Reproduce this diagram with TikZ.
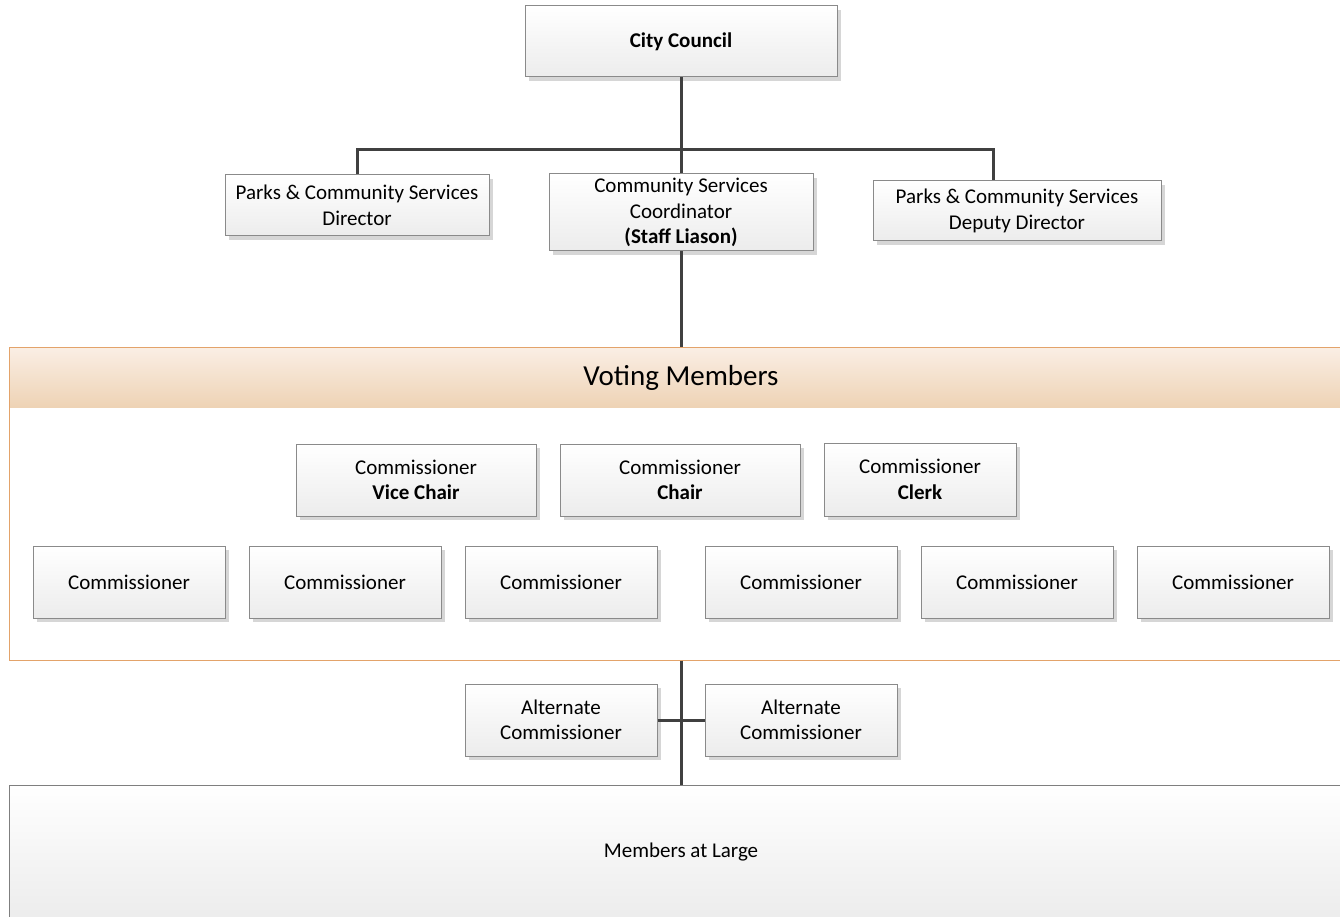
\documentclass[tikz,border=0pt]{standalone}
\usepackage{fontspec}
\setmainfont{Carlito}
\usetikzlibrary{shadows}
\definecolor{boxborder}{HTML}{8A8A8A}
\definecolor{boxbottom}{HTML}{ECECEC}
\definecolor{linecol}{HTML}{404040}
\definecolor{orangeborder}{HTML}{E3A36A}
\definecolor{headtop}{HTML}{FAEEE4}
\definecolor{headbottom}{HTML}{EED3B5}
\definecolor{malborder}{HTML}{7F7F7F}
\tikzset{
  orgbox/.style={draw=boxborder, line width=1pt, top color=white, bottom color=boxbottom,
    drop shadow={shadow xshift=4pt, shadow yshift=-4pt, fill=black!16, opacity=1},
    align=center, inner sep=0pt, font=\fontsize{21}{25.5}\selectfont},
  conn/.style={draw=linecol, line width=3pt},
}
\begin{document}
\begin{tikzpicture}[x=1pt,y=-1pt]
\useasboundingbox (0,0) rectangle (1340,917);
\clip (0,0) rectangle (1340,917);
% top
\node[orgbox, minimum width=312pt, minimum height=71pt, font=\fontsize{21}{25.5}\selectfont\bfseries] (cc) at (681,41.5) {City Council};
\node[orgbox, minimum width=264pt, minimum height=61pt] (dir) at (357,205.5) {Parks \& Community Services\\Director};
\node[orgbox, minimum width=264pt, minimum height=77pt] (coord) at (681,212.5) {Community Services\\Coordinator\\\textbf{(Staff Liason)}};
\node[orgbox, minimum width=288pt, minimum height=60pt] (dep) at (1017,211) {Parks \& Community Services\\Deputy Director};
\coordinate (bus) at (681,150);
% voting members container
\node[top color=headtop, bottom color=headbottom, minimum width=1344pt, minimum height=59pt, inner sep=0pt,
  font=\fontsize{29}{34}\selectfont] (vhead) at (681,377.5) {Voting Members};
\node[draw=orangeborder, line width=1pt, minimum width=1344pt, minimum height=313pt, inner sep=0pt] (voting) at (681,503.5) {};
% row 1
\node[orgbox, minimum width=240pt, minimum height=72pt] (vice) at (416,480) {Commissioner\\\textbf{Vice Chair}};
\node[orgbox, minimum width=240pt, minimum height=72pt] (chair) at (680,480) {Commissioner\\\textbf{Chair}};
\node[orgbox, minimum width=192pt, minimum height=73pt] (clerk) at (920,479.5) {Commissioner\\\textbf{Clerk}};
% row 2
\node[orgbox, minimum width=192pt, minimum height=72pt] (c1) at (129,582) {Commissioner};
\node[orgbox, minimum width=192pt, minimum height=72pt] (c2) at (345,582) {Commissioner};
\node[orgbox, minimum width=192pt, minimum height=72pt] (c3) at (561,582) {Commissioner};
\node[orgbox, minimum width=192pt, minimum height=72pt] (c4) at (801,582) {Commissioner};
\node[orgbox, minimum width=192pt, minimum height=72pt] (c5) at (1017,582) {Commissioner};
\node[orgbox, minimum width=192pt, minimum height=72pt] (c6) at (1233,582) {Commissioner};
% alternates
\node[orgbox, minimum width=192pt, minimum height=72pt] (alt1) at (561,720) {Alternate\\Commissioner};
\node[orgbox, minimum width=192pt, minimum height=72pt] (alt2) at (801,720) {Alternate\\Commissioner};
% members at large
\node[draw=malborder, line width=1pt, top color=white, bottom color=boxbottom, minimum width=1344pt, minimum height=135pt,
  inner sep=0pt, font=\fontsize{21}{25.5}\selectfont] (mal) at (681,852.5) {Members at Large};
% connectors
\draw[conn] (cc.south) -- (coord.north);
\draw[conn] (dir.north) -- (dir.north |- bus) -- ([xshift=-24pt]dep.north |- bus) -- ([xshift=-24pt]dep.north);
\draw[conn] (coord.south) -- (coord.south |- voting.north);
\draw[conn] (voting.south) -- (mal.north);
\draw[conn] (alt1.east) -- (alt2.west);
\end{tikzpicture}
\end{document}
